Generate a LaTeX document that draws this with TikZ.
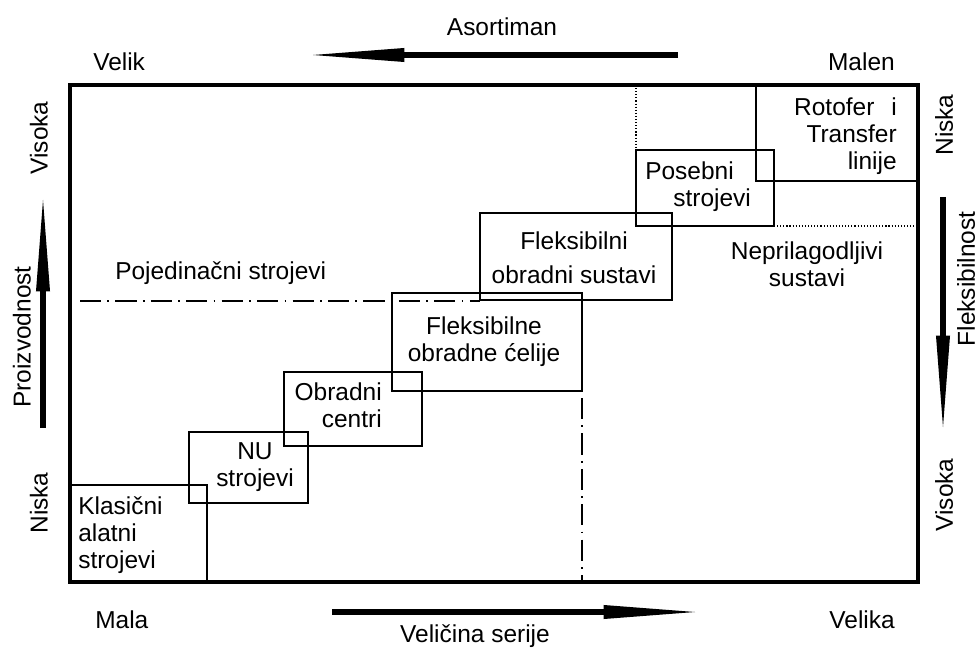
\documentclass[tikz,border=0pt]{standalone}
\usepackage{fontspec}
\setmainfont{Liberation Sans}
\usetikzlibrary{arrows.meta}

\begin{document}
\begin{tikzpicture}[x=0.025cm,y=-0.025cm,
        txt/.style={font=\fontsize{17.4}{19.4}\selectfont, inner sep=0pt},
        frame/.style={line width=2.4pt},
        box/.style={line width=1.9pt},
        dotline/.style={line width=0.8pt, dash pattern=on 0.8pt off 1.4pt},
        dashdot/.style={line width=1pt, dash pattern=on 15pt off 4.5pt on 1.2pt off 4.5pt},
        axis/.style={line width=4.8pt, -{Triangle[length=65pt,width=10pt,line width=0pt]}}]
        \useasboundingbox (0,0) rectangle (979,648);

        % frame
        \draw[frame] (70,85) rectangle (918,582);

        % boxes
        \draw[box] (70,485) rectangle (207,582);
        \draw[box] (189,432) rectangle (308,503);
        \draw[box] (284,372) rectangle (422,446);
        \draw[box] (392,293) rectangle (582,391);
        \draw[box] (480,213) rectangle (672,300);
        \draw[box] (636,150) rectangle (774,226);
        \draw[box] (756,85) rectangle (918,181);

        % limits
        \draw[dotline] (636,85) -- (636,150);
        \draw[dotline] (774,226) -- (918,226);
        \draw[dashdot] (80,301) -- (480,301);
        \draw[dashdot] (582,398) -- (582,582);

        % box texts
        \node[txt, anchor=north west, align=left] (klasicni) at (78,496) {Klasični\\alatni\\strojevi};
        \node[txt, anchor=north, align=center] (nu) at (255,442) {NU\\strojevi};
        \node[txt, anchor=north east, align=right] (obradni) at (382,382) {Obradni\\centri};
        \node[txt, anchor=north, align=center] (celije) at (484,316) {Fleksibilne\\obradne ćelije};
        \node[txt, anchor=north, align=center] (sustavi) at (574,231) {Fleksibilni\\[5pt]obradni sustavi};
        \node[txt, anchor=north west, align=left] (posebni) at (645,161) {Posebni\\\hspace*{20pt}strojevi};
        \node[txt, anchor=north east, align=right] (rotofer) at (897,97) {Rotofer\hspace{12pt}i\\Transfer\\linije};
        \node[txt, anchor=north, align=center] (neprilag) at (807,241) {Neprilagodljivi\\sustavi};
        \node[txt, anchor=north west] (pojed) at (115,261) {Pojedinačni strojevi};

        % axis texts
        \node[txt, anchor=north] (asort) at (502,17) {Asortiman};
        \node[txt, anchor=north west] (velik) at (93,52) {Velik};
        \node[txt, anchor=north east] (malen) at (895,52) {Malen};
        \node[txt, anchor=north west] (mala) at (95,610) {Mala};
        \node[txt, anchor=north east] (velika) at (895,610) {Velika};
        \node[txt, anchor=north] (serija) at (475,624) {Veličina serije};
        \node[txt, rotate=90] (visokaL) at (39,138) {Visoka};
        \node[txt, rotate=90] (proizv) at (22,337) {Proizvodnost};
        \node[txt, rotate=90] (niskaL) at (39,503) {Niska};
        \node[txt, rotate=90] (niskaR) at (944,125) {Niska};
        \node[txt, rotate=90] (fleks) at (966,279) {Fleksibilnost};
        \node[txt, rotate=90] (visokaR) at (944,495) {Visoka};

        % arrows
        \coordinate (asortA) at (678,55);
        \coordinate (asortB) at (313,55);
        \coordinate (serijaA) at (332,612);
        \coordinate (serijaB) at (695,612);
        \coordinate (proizvA) at (43,428);
        \coordinate (proizvB) at (43,200);
        \coordinate (fleksA) at (943,197);
        \coordinate (fleksB) at (943,427);
        \draw[axis] (asortA) -- (asortB);
        \draw[axis] (serijaA) -- (serijaB);
        \draw[axis] (proizvA) -- (proizvB);
        \draw[axis] (fleksA) -- (fleksB);
    \end{tikzpicture}
\end{document}
